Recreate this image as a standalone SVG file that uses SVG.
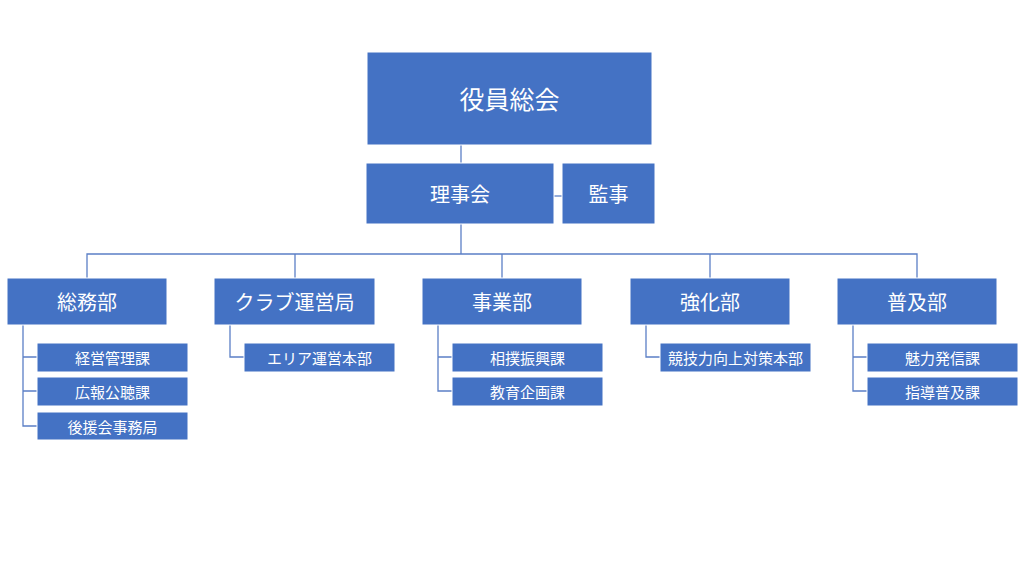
<svg xmlns="http://www.w3.org/2000/svg" width="1024" height="576" viewBox="0 0 1024 576">
<style>
.box{fill:#4472C4;stroke:#ffffff;stroke-width:1}
.t{fill:#ffffff;font-family:"Noto Sans CJK JP","Noto Sans CJK SC",sans-serif;text-anchor:middle;dominant-baseline:central}
.t1{font-size:25px}
.t2{font-size:20px}
.t3{font-size:15px}
.ln{fill:none;stroke:#5B7FC6;stroke-width:1.3}
</style>
<rect width="1024" height="576" fill="#ffffff"/>
<g id="connectors">
<path class="ln" d="M461 145V163"/>
<path class="ln" d="M554 196H562"/>
<path class="ln" d="M461 224V254"/>
<path class="ln" d="M87 278V254H917V278"/>
<path class="ln" d="M295 254V278"/>
<path class="ln" d="M502 254V278"/>
<path class="ln" d="M710 254V278"/>
<path class="ln" d="M23 325V426H37M23 357H37M23 391H37"/>
<path class="ln" d="M230 325V357H244"/>
<path class="ln" d="M438 325V391H452M438 357H452"/>
<path class="ln" d="M646 325V357H660"/>
<path class="ln" d="M853 325V391H867M853 357H867"/>
</g>
<g id="n-yakuin"><rect class="box" x="367" y="52" width="285" height="93"/><text class="t t1" x="509.5" y="98">役員総会</text></g>
<g id="n-rijikai"><rect class="box" x="366" y="163" width="188" height="61"/><text class="t t2" x="460" y="193">理事会</text></g>
<g id="n-kanji"><rect class="box" x="562" y="163" width="93" height="61"/><text class="t t2" x="608.5" y="193">監事</text></g>
<g id="n-somu"><rect class="box" x="7" y="278" width="160" height="47"/><text class="t t2" x="87" y="301">総務部</text></g>
<g id="n-club"><rect class="box" x="214" y="278" width="161" height="47"/><text class="t t2" x="294.5" y="301">クラブ運営局</text></g>
<g id="n-jigyo"><rect class="box" x="422" y="278" width="160" height="47"/><text class="t t2" x="502" y="301">事業部</text></g>
<g id="n-kyoka"><rect class="box" x="630" y="278" width="160" height="47"/><text class="t t2" x="710" y="301">強化部</text></g>
<g id="n-fukyu"><rect class="box" x="837" y="278" width="160" height="47"/><text class="t t2" x="917" y="301">普及部</text></g>
<g id="n-keiei"><rect class="box" x="37" y="343" width="151" height="29"/><text class="t t3" x="112.5" y="357">経営管理課</text></g>
<g id="n-koho"><rect class="box" x="37" y="377" width="151" height="29"/><text class="t t3" x="112.5" y="391">広報公聴課</text></g>
<g id="n-koen"><rect class="box" x="37" y="412" width="151" height="28"/><text class="t t3" x="112.5" y="426">後援会事務局</text></g>
<g id="n-area"><rect class="box" x="244" y="343" width="151" height="29"/><text class="t t3" x="319.5" y="357">エリア運営本部</text></g>
<g id="n-sumo"><rect class="box" x="452" y="343" width="151" height="29"/><text class="t t3" x="527.5" y="357">相撲振興課</text></g>
<g id="n-kyoiku"><rect class="box" x="452" y="377" width="151" height="29"/><text class="t t3" x="527.5" y="391">教育企画課</text></g>
<g id="n-kyogi"><rect class="box" x="660" y="343" width="151" height="29"/><text class="t t3" x="735.5" y="357">競技力向上対策本部</text></g>
<g id="n-miryoku"><rect class="box" x="867" y="343" width="151" height="29"/><text class="t t3" x="942.5" y="357">魅力発信課</text></g>
<g id="n-shido"><rect class="box" x="867" y="377" width="151" height="29"/><text class="t t3" x="942.5" y="391">指導普及課</text></g>
</svg>
